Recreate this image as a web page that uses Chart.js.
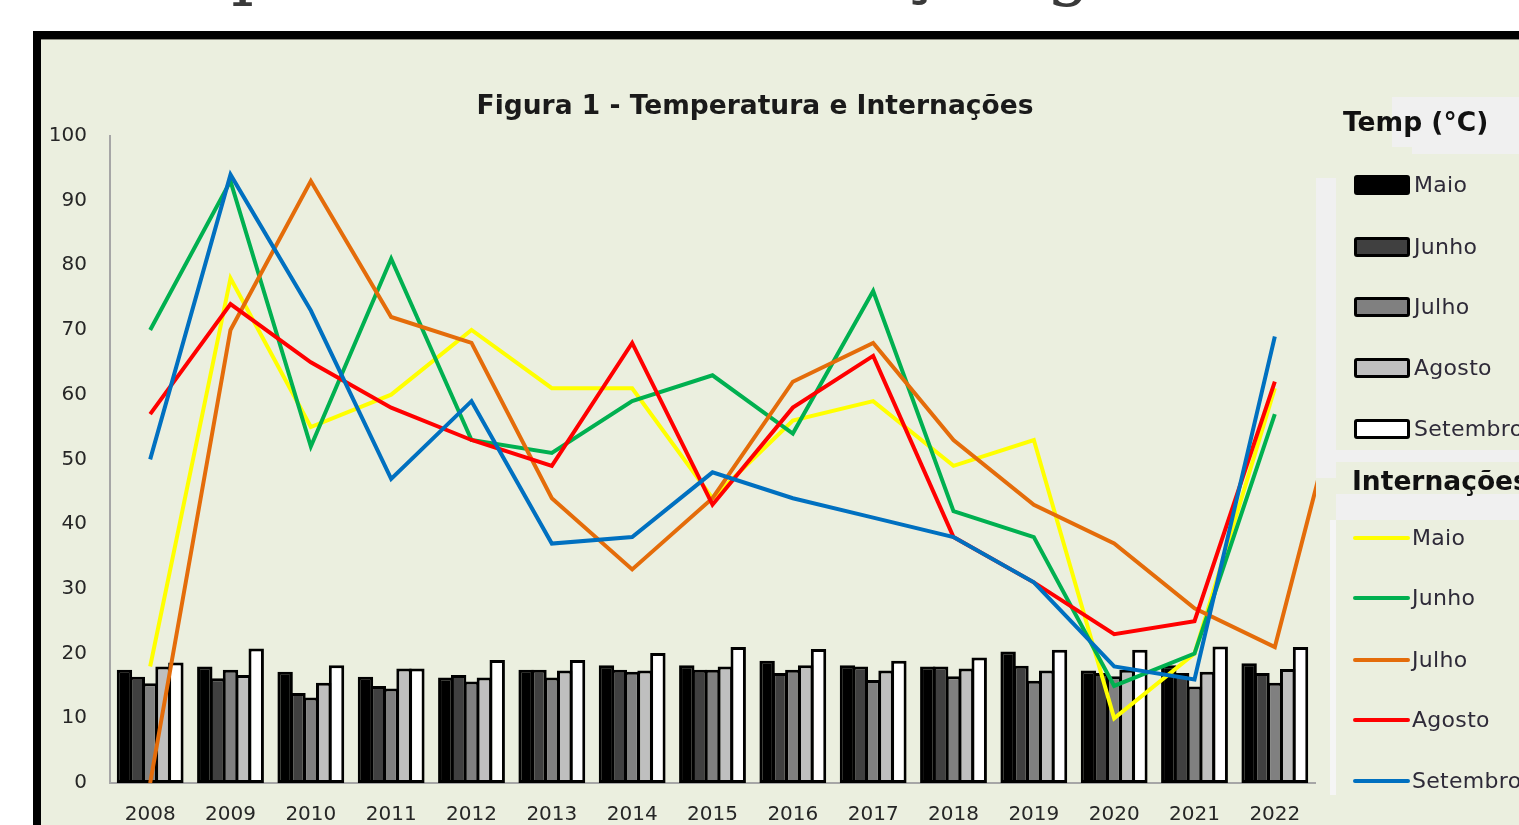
<!DOCTYPE html>
<html lang="pt">
<head>
<meta charset="utf-8">
<title>Figura 1 - Temperatura e Internações</title>
<script src="https://cdn.jsdelivr.net/npm/chart.js@4/dist/chart.umd.min.js"></script>
<style>
  html, body { margin: 0; padding: 0; background: #ffffff; }
  body { width: 1519px; height: 825px; overflow: hidden; position: relative; font-family: "DejaVu Sans", sans-serif; }
  #heading { position: absolute; left: 80px; top: -69px; font-family: "DejaVu Serif", serif; font-size: 71px; line-height: 71px; color: #3a3a3a; white-space: nowrap; }
  #frame { position: absolute; left: 33px; top: 31px; width: 1520px; height: 820px; border-left: 8px solid #000; border-top: 8px solid #000; background: rgb(235,239,223); }
  #frame::before { content: ""; position: absolute; left: 0; top: 0; right: 0; height: 1px; background: #8a8a80; }
  #wrap { position: absolute; left: 41px; top: 40px; width: 1428px; height: 785px; }
  .abs { position: absolute; }
  .gray { position: absolute; background: #f0f0f0; }
  .ltitle { position: absolute; font-weight: bold; font-size: 26.5px; color: #111; white-space: nowrap; line-height: 30px; }
  .ltext { position: absolute; font-size: 22px; color: #2e2a38; white-space: nowrap; line-height: 24px; letter-spacing: 0.3px; }
  .swatch { position: absolute; width: 50px; height: 14px; border: 3px solid #000; border-radius: 3px; }
  .lineSw { position: absolute; width: 57px; height: 4px; border-radius: 2px; }
</style>
</head>
<body>
<div id="heading">Temperatura e Internação geral</div>
<div id="frame"></div>
<div id="wrap"><canvas id="chart" width="1428" height="785"></canvas></div>
<div id="legend"></div>

<script>
// Anos
const years = ['2008','2009','2010','2011','2012','2013','2014','2015','2016','2017','2018','2019','2020','2021','2022'];

// Temperatura média mensal (°C) — barras
const tempMaio     = [17.5, 18.0, 17.2, 16.4, 16.3, 17.5, 18.2, 18.2, 18.9, 18.2, 18.0, 20.3, 17.4, 18.2, 18.5];
const tempJunho    = [16.4, 16.2, 13.9, 15.0, 16.7, 17.5, 17.5, 17.5, 17.0, 18.0, 18.0, 18.1, 17.0, 17.0, 17.0];
const tempJulho    = [15.4, 17.5, 13.2, 14.6, 15.7, 16.3, 17.2, 17.5, 17.5, 15.9, 16.5, 15.8, 16.5, 14.9, 15.5];
const tempAgosto   = [18.0, 16.7, 15.5, 17.7, 16.3, 17.4, 17.4, 18.0, 18.2, 17.4, 17.7, 17.4, 17.5, 17.2, 17.6];
const tempSetembro = [18.6, 20.8, 18.2, 17.7, 19.0, 19.0, 20.1, 21.0, 20.7, 18.9, 19.4, 20.6, 20.6, 21.1, 21.0];

// Internações por mês — linhas (Julho traz um valor a mais, que segue por baixo da legenda)
const intMaio     = [18, 78, 55, 60, 70, 61, 61, 44, 56, 59, 49, 53, 10, 20, 61];
const intJunho    = [70, 93, 52, 81, 53, 51, 59, 63, 54, 76, 42, 38, 15, 20, 57];
const intJulho    = [0, 70, 93, 72, 68, 44, 33, 44, 62, 68, 53, 43, 37, 27, 21, 69];
const intAgosto   = [57, 74, 65, 58, 53, 49, 68, 43, 58, 66, 38, 31, 23, 25, 62];
const intSetembro = [50, 94, 73, 47, 59, 37, 38, 48, 44, 41, 38, 31, 18, 16, 69];

// Eixo Y
const yTicks = [0, 10, 20, 30, 40, 50, 60, 70, 80, 90, 100];

const months = ['Maio', 'Junho', 'Julho', 'Agosto', 'Setembro'];
const barFills = ['#000000', '#404040', '#808080', '#bfbfbf', '#ffffff'];
const lineColors = ['#ffff00', '#00b050', '#e46c0a', '#ff0000', '#0070c0'];
const tempSeries = [tempMaio, tempJunho, tempJulho, tempAgosto, tempSetembro];
const intSeries = [intMaio, intJunho, intJulho, intAgosto, intSetembro];

// o eixo X é numérico (índice do ano); cada valor vira um ponto {x: índice, y: valor}
const toPoints = arr => arr.map((v, k) => ({ x: k, y: v }));

// barras levemente sobrepostas, contornos pretos colados
const barSets = tempSeries.map((d, i) => ({
  type: 'bar',
  label: months[i],
  data: toPoints(d),
  backgroundColor: barFills[i],
  borderColor: '#000000',
  borderWidth: 3,
  borderSkipped: false,
  barPercentage: 1.2,
  categoryPercentage: 0.8,
  order: 20
}));

const lineSets = intSeries.map((d, i) => ({
  type: 'line',
  label: months[i],
  data: toPoints(d),
  borderColor: lineColors[i],
  backgroundColor: lineColors[i],
  borderWidth: 4,
  pointRadius: 0,
  tension: 0,
  fill: false,
  clip: d.length > years.length ? false : undefined,
  order: 5 - i
}));

// prolonga a linha do eixo X um pouco além da última categoria
const axisTail = {
  id: 'axisTail',
  afterDraw(chart) {
    const { ctx, chartArea } = chart;
    ctx.save();
    ctx.strokeStyle = '#a6a6a6';
    ctx.lineWidth = 2;
    ctx.beginPath();
    ctx.moveTo(chartArea.right - 1, chartArea.bottom);
    ctx.lineTo(chartArea.right + 20, chartArea.bottom);
    ctx.stroke();
    ctx.restore();
  }
};

Chart.defaults.font.family = '"DejaVu Sans", sans-serif';

new Chart(document.getElementById('chart'), {
  data: { datasets: [...lineSets, ...barSets] },
  plugins: [axisTail],
  options: {
    responsive: false,
    animation: false,
    plugins: {
      legend: { display: false },
      tooltip: { enabled: false },
      title: {
        display: true,
        text: 'Figura 1 - Temperatura e Internações',
        color: '#1a1a1a',
        font: { size: 26.5, weight: 'bold' },
        padding: { top: 51, bottom: 13 }
      }
    },
    scales: {
      x: {
        type: 'linear',
        offset: false,
        min: -0.5,
        max: years.length - 0.5,
        grid: { display: false, drawTicks: false },
        border: { display: true, color: '#a6a6a6', width: 2 },
        afterBuildTicks(scale) { scale.ticks = years.map((y, k) => ({ value: k })); },
        ticks: {
          color: '#262626', font: { size: 20 }, padding: 20, maxRotation: 0, autoSkip: false,
          callback: v => years[v]
        },
        afterFit(scale) { scale.height = 42; }
      },
      y: {
        min: 0,
        max: 100,
        grid: { display: false, drawTicks: false },
        border: { display: true, color: '#a6a6a6', width: 2 },
        afterBuildTicks(scale) { scale.ticks = yTicks.map(v => ({ value: v })); },
        ticks: { color: '#262626', font: { size: 20 }, padding: 23 },
        afterFit(scale) { scale.width = 69; }
      },
      // espaço reservado à direita, onde fica a legenda
      yr: {
        position: 'right',
        display: true,
        grid: { display: false, drawTicks: false },
        border: { display: false },
        ticks: { display: false },
        afterFit(scale) { scale.width = 154; }
      }
    }
  }
});

// Legenda lateral
(function buildLegend() {
  const lg = document.getElementById('legend');
  const add = (cls, style, text) => {
    const el = document.createElement('div');
    el.className = cls;
    Object.assign(el.style, style);
    if (text) el.textContent = text;
    lg.appendChild(el);
    return el;
  };
  add('gray', { left: '1392px', top: '97px', width: '127px', height: '50px' });
  add('gray', { left: '1412px', top: '147px', width: '107px', height: '7px' });
  add('ltitle', { left: '1343px', top: '107px' }, 'Temp (°C)');

  add('abs', { left: '1316px', top: '160px', width: '203px', height: '665px', background: 'rgb(235,239,223)' });
  add('gray', { left: '1316px', top: '178px', width: '20px', height: '300px' });
  add('gray', { left: '1336px', top: '450px', width: '183px', height: '12px' });
  add('gray', { left: '1336px', top: '494px', width: '183px', height: '26px' });
  add('gray', { left: '1330px', top: '520px', width: '6px', height: '275px', background: '#f5f5f5' });
  add('ltitle', { left: '1352px', top: '466px' }, 'Internações');

  const tempY = [185, 247, 307, 368, 429];
  months.forEach((m, i) => {
    add('swatch', { left: '1354px', top: (tempY[i] - 10) + 'px', background: barFills[i] });
    add('ltext', { left: '1414px', top: (tempY[i] - 12) + 'px' }, m);
  });
  const lineY = [538, 598, 660, 720, 781];
  months.forEach((m, i) => {
    add('lineSw', { left: '1353px', top: (lineY[i] - 2) + 'px', background: lineColors[i] });
    add('ltext', { left: '1412px', top: (lineY[i] - 12) + 'px' }, m);
  });
})();
</script>
</body>
</html>
